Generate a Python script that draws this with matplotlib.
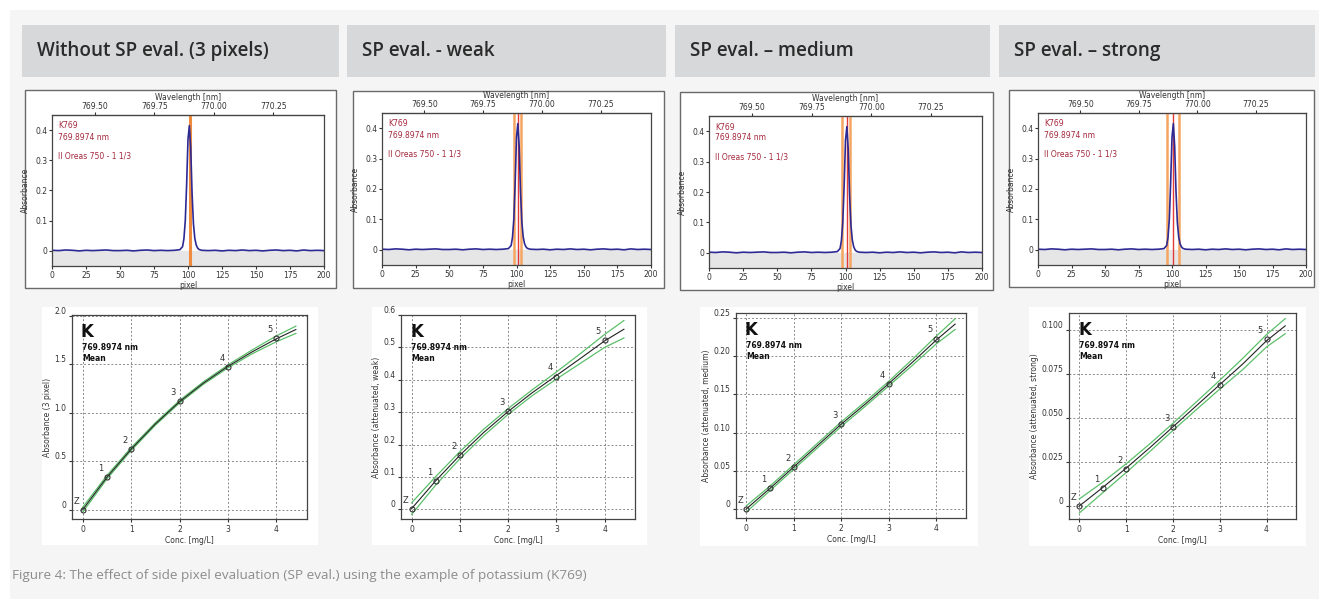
import matplotlib
matplotlib.use("Agg")
import matplotlib.pyplot as plt
from matplotlib.patches import Rectangle
from matplotlib import font_manager

W, H = 1319, 599

# ---------------- data ----------------
headers = ["Without SP eval. (3 pixels)", "SP eval. - weak",
           "SP eval. \u2013 medium", "SP eval. \u2013 strong"]
caption = "Figure 4: The effect of side pixel evaluation (SP eval.) using the example of potassium (K769)"

# absorbance spectrum (same sample in every panel)
spec_pixel = [0, 5, 10, 15, 20, 25, 30, 35, 40, 45, 50, 55, 60, 65, 70, 75, 80, 85, 90,
              94, 96, 97, 98, 99, 100, 101, 102, 103, 104, 105, 106, 107, 108,
              110, 115, 120, 125, 130, 135, 140, 145, 150, 155, 160, 165, 170, 175,
              180, 185, 190, 195, 200]
spec_abs = [0.002, 0.001, 0.003, 0.002, 0.000, 0.002, 0.001, 0.002, 0.003, 0.001,
            0.001, 0.002, 0.000, 0.002, 0.003, 0.001, 0.002, 0.001, 0.002,
            0.004, 0.014, 0.04, 0.10, 0.22, 0.37, 0.415, 0.34, 0.19, 0.09, 0.042,
            0.02, 0.01, 0.005,
            0.002, 0.001, 0.002, 0.000, 0.002, 0.001, 0.003, 0.001, 0.002, 0.000,
            0.002, 0.003, 0.001, 0.002, 0.000, 0.003, 0.001, 0.002, 0.001]

# evaluated pixels per panel
side_pixels = [[101.3], [98.5, 103], [97.5, 103.5], [96, 105]]
center_pixels = [None, 101, 100.8, 100.5]

# calibration standards
conc = [0, 0.5, 1, 2, 3, 4]
std_labels = ["Z", "1", "2", "3", "4", "5"]
abs_3px = [0, 0.34, 0.63, 1.12, 1.47, 1.77]
abs_weak = [0, 0.088, 0.168, 0.302, 0.41, 0.522]
abs_medium = [0, 0.027, 0.055, 0.111, 0.163, 0.223]
abs_strong = [0, 0.010, 0.021, 0.045, 0.069, 0.095]

# calibration curves and confidence bands
curve_x = [0, 0.5, 1, 1.5, 2, 2.5, 3, 3.5, 4, 4.4]
curve_3px = [0, 0.335, 0.625, 0.885, 1.115, 1.31, 1.48, 1.63, 1.765, 1.86]
upper_3px = [0.025, 0.353, 0.64, 0.898, 1.128, 1.323, 1.495, 1.65, 1.795, 1.895]
lower_3px = [-0.025, 0.317, 0.61, 0.872, 1.102, 1.297, 1.465, 1.61, 1.735, 1.82]
curve_weak = [0.002, 0.088, 0.167, 0.238, 0.302, 0.360, 0.413, 0.466, 0.520, 0.556]
upper_weak = [0.020, 0.101, 0.178, 0.248, 0.311, 0.369, 0.424, 0.481, 0.540, 0.583]
lower_weak = [-0.016, 0.075, 0.156, 0.228, 0.293, 0.351, 0.402, 0.451, 0.500, 0.529]
curve_medium = [0, 0.027, 0.055, 0.083, 0.111, 0.137, 0.164, 0.192, 0.221, 0.242]
upper_medium = [0.004, 0.030, 0.058, 0.086, 0.114, 0.140, 0.167, 0.196, 0.226, 0.249]
lower_medium = [-0.004, 0.024, 0.052, 0.080, 0.108, 0.134, 0.161, 0.188, 0.216, 0.235]
curve_strong = [0, 0.0105, 0.0215, 0.033, 0.045, 0.057, 0.069, 0.081, 0.094, 0.1025]
upper_strong = [0.004, 0.0135, 0.024, 0.0352, 0.047, 0.0592, 0.0715, 0.0842, 0.0975, 0.1066]
lower_strong = [-0.004, 0.0075, 0.019, 0.0308, 0.043, 0.0548, 0.0665, 0.0778, 0.0905, 0.098]

calib_ylabels = ["Absorbance (3 pixel)", "Absorbance (attenuated, weak)",
                 "Absorbance (attenuated, medium)", "Absorbance (attenuated, strong)"]
calib_yticks = [[0, 0.5, 1.0, 1.5, 2.0], [0, 0.1, 0.2, 0.3, 0.4, 0.5, 0.6],
                [0, 0.05, 0.10, 0.15, 0.20, 0.25], [0, 0.025, 0.050, 0.075, 0.100]]
calib_yticklabels = [["0", "0.5", "1.0", "1.5", "2.0"],
                     ["0", "0.1", "0.2", "0.3", "0.4", "0.5", "0.6"],
                     ["0", "0.05", "0.10", "0.15", "0.20", "0.25"],
                     ["0", "0.025", "0.050", "0.075", "0.100"]]
calib_ylims = [(-0.096, 2.01), (-0.03, 0.6), (-0.012, 0.2566), (-0.0074, 0.1098)]

# ---------------- layout (pixels) ----------------
header_boxes = [(22, 25, 339), (347, 25, 666), (675, 25, 990), (999, 25, 1315)]
spec_boxes = [(25, 90, 336, 288), (353, 91, 664, 288), (680, 92, 993, 290), (1009, 90, 1314, 287)]
spec_axes = [(52, 115, 324, 266), (382, 113, 651, 265), (709, 116, 982, 268), (1038, 113, 1306, 265)]
cal_boxes = [(42, 307, 318, 545), (372, 307, 647, 545), (700, 307, 978, 546), (1029, 307, 1306, 546)]
cal_axes = [(72, 315, 307, 519), (401, 315, 635, 519), (736, 313, 966, 518), (1069, 313, 1296, 519)]

PEAK_WL = 769.8974
PEAK_PX = 101.0
NM_PER_PX = 0.00572

available = {f.name for f in font_manager.fontManager.ttflist}
head_font = "Open Sans" if "Open Sans" in available else "DejaVu Sans"
if "Liberation Sans Narrow" in available:
    cap_font, cap_size = "Liberation Sans Narrow", 10.6
else:
    cap_font, cap_size = head_font, 9.7

plt.rcParams["font.family"] = ["DejaVu Sans"]
SMALL = 5.5


def frect(x0, y0, x1, y1):
    return [x0 / W, 1 - y1 / H, (x1 - x0) / W, (y1 - y0) / H]


def box(fig, x0, y0, x1, y1, face, edge="none", lw=0):
    fig.add_artist(Rectangle((x0 / W, 1 - y1 / H), (x1 - x0) / W, (y1 - y0) / H,
                             transform=fig.transFigure, facecolor=face,
                             edgecolor=edge, linewidth=lw, zorder=-1))


def px2wl(p):
    return PEAK_WL + (p - PEAK_PX) * NM_PER_PX


def wl2px(w):
    return PEAK_PX + (w - PEAK_WL) / NM_PER_PX


fig = plt.figure(figsize=(W / 100, H / 100), dpi=100)
fig.patch.set_facecolor("white")
box(fig, 10, 10, W, H, "#f5f5f5")

for i in range(4):
    hx0, hy0, hx1 = header_boxes[i]
    box(fig, hx0, hy0, hx1, 77, "#d7d8d9")
    fig.text((hx0 + 15) / W, 1 - 51 / H, headers[i], fontsize=13.6, fontweight="semibold",
             family=head_font, color="#2b2b2b", va="center", ha="left")

    # ---- spectrum ----
    box(fig, *spec_boxes[i], "white", edge="#6a6a6a", lw=1)
    ax = fig.add_axes(frect(*spec_axes[i]))
    ax.axhspan(-0.05, 0, color="#e6e6e6", zorder=0)
    for p in side_pixels[i]:
        ax.axvline(p, color="#f5a561" if i else "#f08a3c", lw=2.2 if i == 0 else 1.8, zorder=1)
    if center_pixels[i] is not None:
        ax.axvline(center_pixels[i], color="#e23a36", lw=1.0, zorder=1)
    ax.plot(spec_pixel, spec_abs, color="#2e2a94", lw=1.2, zorder=2)
    ax.set_xlim(0, 200)
    ax.set_ylim(-0.05, 0.45)
    ax.set_xticks(range(0, 201, 25))
    ax.set_yticks([0, 0.1, 0.2, 0.3, 0.4])
    ax.set_yticklabels(["0", "0.1", "0.2", "0.3", "0.4"])
    ax.tick_params(labelsize=SMALL, length=2, pad=1.5, colors="#333333")
    for s in ax.spines.values():
        s.set_color("#444444")
        s.set_linewidth(0.9)
    ax.set_xlabel("pixel", fontsize=SMALL, labelpad=0.5, color="#333333")
    ax.set_ylabel("Absorbance", fontsize=SMALL, labelpad=4, color="#333333")
    sec = ax.secondary_xaxis("top", functions=(px2wl, wl2px))
    sec.set_xticks([769.50, 769.75, 770.00, 770.25])
    sec.set_xticklabels(["769.50", "769.75", "770.00", "770.25"])
    sec.tick_params(labelsize=SMALL, length=2, pad=1, colors="#333333")
    sec.set_xlabel("Wavelength [nm]", fontsize=SMALL, labelpad=1, color="#333333")
    for txt, dy in [("K769", 11), ("769.8974 nm", 22), ("II Oreas 750 - 1 1/3", 41)]:
        ax.annotate(txt, (0, 1), xycoords="axes fraction", xytext=(6 * 0.72, -dy * 0.72),
                    textcoords="offset points", fontsize=SMALL, color="#a3283c",
                    ha="left", va="center")

# ---- calibration curves ----
cal_points = [abs_3px, abs_weak, abs_medium, abs_strong]
cal_curves = [curve_3px, curve_weak, curve_medium, curve_strong]
cal_upper = [upper_3px, upper_weak, upper_medium, upper_strong]
cal_lower = [lower_3px, lower_weak, lower_medium, lower_strong]

for i in range(4):
    box(fig, *cal_boxes[i], "white")
    ax = fig.add_axes(frect(*cal_axes[i]))
    ax.grid(True, color="#8a8a8a", linestyle=(0, (2, 2)), lw=0.7)
    ax.set_axisbelow(True)
    ax.plot(curve_x, cal_upper[i], color="#5cbf6a", lw=0.9)
    ax.plot(curve_x, cal_lower[i], color="#5cbf6a", lw=0.9)
    ax.plot(curve_x, cal_curves[i], color="#222222", lw=0.8)
    ax.plot(conc, cal_points[i], "o", mfc="none", mec="#333333", ms=3.6, mew=0.8)
    for c, v, lab in zip(conc, cal_points[i], std_labels):
        ax.annotate(lab, (c, v), xytext=(-4.5, 3), textcoords="offset points",
                    fontsize=6, color="#333333", ha="center", va="bottom")
    ax.set_xlim(-0.22, 4.63)
    ax.set_ylim(*calib_ylims[i])
    ax.set_xticks([0, 1, 2, 3, 4])
    ax.set_yticks(calib_yticks[i])
    ax.set_yticklabels(calib_yticklabels[i])
    for t in ax.get_yticklabels():
        t.set_va("bottom")
    ax.tick_params(labelsize=SMALL, length=2.5, pad=1.5, colors="#333333")
    for s in ax.spines.values():
        s.set_color("#444444")
        s.set_linewidth(0.9)
    ax.set_xlabel("Conc. [mg/L]", fontsize=SMALL, labelpad=2, color="#333333")
    ax.set_ylabel(calib_ylabels[i], fontsize=SMALL, labelpad=2, color="#333333")
    ax.annotate("K", (0, 1), xycoords="axes fraction", xytext=(9 * 0.72, -17 * 0.72),
                textcoords="offset points", fontsize=12, fontweight="bold",
                ha="left", va="center", color="#111111")
    ax.annotate("769.8974 nm", (0, 1), xycoords="axes fraction", xytext=(10 * 0.72, -32.7 * 0.72),
                textcoords="offset points", fontsize=SMALL, fontweight="bold",
                ha="left", va="center", color="#111111")
    ax.annotate("Mean", (0, 1), xycoords="axes fraction", xytext=(10 * 0.72, -43.3 * 0.72),
                textcoords="offset points", fontsize=SMALL, fontweight="bold",
                ha="left", va="center", color="#111111")

fig.text(12 / W, 1 - 575 / H, caption, fontsize=cap_size, family=cap_font,
         color="#8c8c8c", va="center", ha="left")

fig.savefig("out.png", dpi=100)
